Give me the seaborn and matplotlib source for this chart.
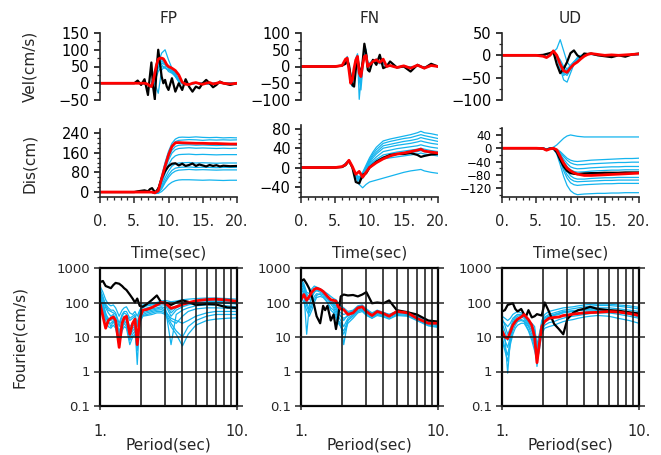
import matplotlib
matplotlib.use("Agg")
import matplotlib.pyplot as plt
from matplotlib.ticker import MultipleLocator, FixedLocator, NullLocator, NullFormatter
import seaborn as sns

# ---------------- data ----------------
COMPONENTS = ["FP", "FN", "UD"]

# Velocity FP
FP_VEL_T = [0,5,5.5,6,6.5,7,7.25,7.5,7.75,8,8.25,8.5,8.75,9,9.25,9.5,9.75,10,10.5,11,11.5,12,12.5,13,13.5,14,14.5,15,15.5,16,16.5,17,17.5,18,19,20]
FP_VEL_BLACK = [0,0,8,-5,12,-35,15,62,-10,-48,40,100,60,20,0,10,-10,-20,15,-25,0,-20,12,-10,-25,-10,-15,0,10,0,-12,-5,5,0,-5,0]
FP_VEL_RED = [0,0,0,0,0,-3,-8,-10,5,30,55,72,75,75,73,65,55,50,45,38,25,3,-3,-4,0,2,-1,-3,0,2,-2,0,3,0,-2,0]
FP_VEL_TC = [0,6,7,7.5,8,8.5,9,9.5,10,10.5,11,11.5,12,13,14,15,16,17,18,19,20]
FP_VEL_CYAN = [
    [0,0,-3,-5,25,60,90,100,70,45,30,10,0,-2,0,0,-2,0,1,0,0],
    [0,0,-3,-5,35,85,70,55,45,35,20,5,0,-2,0,1,-1,0,0,0,0],
    [0,0,-3,-8,20,55,75,65,50,40,30,10,0,-3,0,0,-2,0,0,0,0],
    [0,0,-3,-8,15,45,60,55,45,35,25,8,0,-2,0,0,-1,0,0,0,0],
    [0,0,-3,-10,5,35,50,45,40,32,20,5,-2,-3,0,0,-2,0,0,0,0],
    [0,0,-3,-10,0,-30,40,50,35,30,22,5,-2,-2,0,0,-1,0,0,0,0],
    [0,0,-3,-5,30,65,55,45,40,38,28,8,0,-3,0,1,-1,0,0,0,0],
    [0,0,-3,-6,40,50,65,60,48,42,30,12,0,-3,0,0,-2,0,0,0,0],
]

# Velocity FN
FN_VEL_T = [0,5,6,6.5,6.75,7,7.25,7.5,7.75,8,8.25,8.5,8.75,9,9.25,9.5,9.75,10,10.5,11,11.5,12,12.5,13,14,15,16,17,18,19,20]
FN_VEL_BLACK = [0,0,3,8,18,5,-30,-55,-60,-10,25,-5,-25,15,68,40,-10,-15,20,5,35,-5,0,15,-3,0,-15,5,-5,8,0]
FN_VEL_RED = [0,0,3,22,25,-10,-50,-40,-5,20,30,-20,-30,5,30,33,0,5,15,20,12,22,0,3,-3,2,-5,4,-5,3,0]
FN_VEL_CYAN = [
    [0,0,3,18,25,-5,-45,-45,-15,20,35,-20,-35,5,60,50,5,0,15,18,10,15,0,2,-2,1,-3,2,-3,2,0],
    [0,0,3,15,22,-8,-40,-50,-20,15,28,-25,-40,0,45,40,0,5,18,20,12,10,2,2,-2,0,-3,2,-2,1,0],
    [0,0,2,20,28,0,-50,-60,-30,10,25,-35,-50,-5,35,30,-5,0,12,15,10,12,0,2,-2,1,-2,2,-2,1,0],
    [0,0,2,12,20,5,-20,-40,-25,12,30,-98,-40,10,45,30,10,10,20,18,10,10,0,2,-1,1,-3,2,-2,1,0],
    [0,0,3,15,30,5,-35,-45,-10,25,38,-15,-30,10,55,45,10,5,15,22,15,12,0,2,-2,1,-2,1,-2,1,0],
    [0,0,2,12,18,0,-30,-40,-20,15,30,-40,-70,-10,40,35,15,5,12,15,8,10,0,1,-1,1,-2,1,-2,1,0],
]

# Velocity UD
UD_VEL_T = [0,5,6,6.5,7,7.5,8,8.5,9,9.5,10,10.5,11,11.5,12,12.5,13,14,15,16,17,18,19,20]
UD_VEL_BLACK = [0,0,1,3,5,8,-20,-40,-30,-15,5,11,0,-5,4,3,4,0,-2,-4,0,-3,2,4]
UD_VEL_RED = [0,0,-2,-5,0,10,0,-20,-35,-38,-28,-20,-15,-8,-2,2,4,2,0,1,0,1,2,3]
UD_VEL_CYAN = [
    [0,0,-1,-3,0,8,15,35,10,-15,-25,-15,-5,0,2,2,3,1,0,1,0,1,1,2],
    [0,0,-1,-4,0,8,-5,-30,-55,-60,-40,-20,-10,-3,0,2,3,1,0,1,0,1,1,2],
    [0,0,-1,-4,0,8,-3,-22,-40,-45,-32,-18,-10,-3,0,2,3,1,0,1,0,1,1,2],
    [0,0,-1,-3,0,7,-2,-15,-30,-35,-28,-18,-8,-2,1,2,3,1,0,1,0,1,1,2],
    [0,0,-1,-3,0,6,0,-10,-25,-30,-25,-15,-8,-2,1,2,2,1,0,1,0,1,1,2],
    [0,0,-1,-4,0,8,-6,-28,-45,-40,-30,-20,-12,-4,0,2,3,1,0,1,0,1,1,2],
    [0,0,-1,-3,0,6,-2,-18,-35,-32,-22,-14,-7,-2,0,2,2,1,0,1,0,1,1,2],
]

# Displacement FP
FP_DIS_T = [0,6,7,7.5,8,8.5,9,9.5,10,10.5,11,11.5,12,13,14,15,16,17,18,19,20]
FP_DIS_RED = [0,0,0,0,-3,5,55,105,150,185,200,201,200,199,198,198,197,197,196,195,195]
FP_DIS_TB = [0,5,5.5,6,6.5,7,7.3,7.6,7.9,8.2,8.6,9,9.5,10,10.5,11,11.5,12,12.5,13,13.5,14,14.5,15,15.5,16,16.5,17,17.5,18,19,20]
FP_DIS_BLACK = [0,0,3,5,7,3,12,16,4,0,20,55,85,105,115,117,108,115,106,110,116,106,112,108,104,110,106,109,104,107,105,106]
FP_DIS_CYAN = [
    [0,0,0,0,-3,15,65,120,165,198,215,222,223,222,224,222,221,222,220,221,220],
    [0,0,0,0,-3,12,58,112,158,190,205,210,211,213,212,210,212,211,212,211,212],
    [0,0,0,0,-4,10,50,100,140,170,185,190,191,192,190,191,190,189,190,191,190],
    [0,0,0,0,-4,8,45,92,130,158,172,177,178,180,178,179,178,177,178,177,178],
    [0,0,0,0,-5,5,35,75,110,135,147,152,153,154,152,153,152,151,152,152,152],
    [0,0,0,0,-5,2,25,58,85,105,115,118,119,120,118,119,118,117,118,118,118],
    [0,0,0,0,-5,0,18,45,70,88,97,100,101,102,100,101,100,99,100,100,100],
    [0,0,0,0,-6,-3,12,38,60,76,85,89,90,92,90,91,90,89,90,90,90],
    [0,0,0,0,-6,-5,2,15,30,40,46,49,50,50,49,48,49,48,47,48,48],
]

# Displacement FN
FN_DIS_T = [0,5,6,6.5,7,7.5,8,8.5,9,9.5,10,10.5,11,12,13,14,15,16,17,17.5,18,19,20]
FN_DIS_RED = [0,0,2,6,15,2,-14,-8,-20,-10,0,5,10,18,24,28,30,33,36,38,34,32,30]
FN_DIS_BLACK = [0,0,1,5,14,0,-30,-33,-15,-12,0,6,12,20,26,28,28,30,26,22,24,27,28]
FN_DIS_CYAN = [
    [0,0,2,8,14,0,-15,-20,-10,5,20,32,42,55,59,62,65,68,72,75,72,70,67],
    [0,0,2,8,14,0,-15,-22,-12,2,16,28,37,50,54,57,60,62,66,68,66,63,60],
    [0,0,2,8,14,0,-14,-20,-14,0,13,24,32,45,48,51,54,56,59,62,60,57,54],
    [0,0,2,8,14,0,-14,-22,-15,-2,10,20,28,40,43,46,48,50,53,55,53,50,48],
    [0,0,2,8,14,0,-14,-24,-16,-5,7,15,22,33,36,39,41,43,45,47,45,42,40],
    [0,0,2,8,14,0,-15,-25,-18,-8,4,11,17,26,29,32,34,36,38,40,38,35,33],
    [0,0,2,8,14,0,-15,-26,-20,-10,2,8,14,22,25,27,29,31,33,35,33,30,28],
    [0,0,2,8,14,0,-15,-28,-22,-12,0,6,11,18,20,22,24,26,28,30,28,26,24],
    [0,0,2,8,14,0,-18,-35,-42,-35,-30,-28,-26,-22,-18,-14,-10,-7,-5,-4,-7,-10,-12],
]

# Displacement UD
UD_DIS_T = [0,5,6,6.5,7,7.5,8,8.5,9,9.5,10,10.5,11,12,13,14,15,16,17,18,19,20]
UD_DIS_RED = [0,0,-1,-6,-2,0,-5,-25,-45,-60,-68,-74,-78,-82,-82,-81,-80,-79,-78,-77,-76,-75]
UD_DIS_BLACK = [0,0,-1,-5,-1,-1,-12,-35,-55,-68,-75,-77,-78,-76,-75,-75,-74,-74,-74,-73,-73,-73]
UD_DIS_CYAN = [
    [0,0,0,-2,0,3,10,20,30,37,40,38,36,34,34,34,34,34,34,34,34,34],
    [0,0,0,-2,0,0,-3,-10,-20,-30,-36,-39,-40,-38,-36,-35,-34,-33,-32,-31,-31,-30],
    [0,0,0,-2,0,0,-4,-13,-25,-36,-44,-48,-50,-49,-47,-46,-45,-44,-43,-43,-42,-42],
    [0,0,0,-2,0,0,-5,-18,-33,-46,-56,-60,-62,-61,-59,-58,-57,-56,-56,-55,-55,-55],
    [0,0,0,-2,0,0,-6,-22,-40,-55,-65,-70,-72,-71,-69,-68,-67,-66,-66,-65,-65,-65],
    [0,0,0,-2,0,-1,-10,-30,-52,-70,-83,-90,-93,-93,-91,-90,-89,-89,-88,-88,-88,-88],
    [0,0,0,-2,0,-1,-12,-35,-60,-80,-93,-99,-101,-100,-99,-98,-97,-97,-96,-96,-96,-96],
    [0,0,0,-2,0,-1,-14,-40,-68,-90,-104,-110,-112,-110,-109,-108,-107,-107,-106,-106,-106,-106],
    [0,0,0,-2,0,-1,-18,-50,-85,-112,-128,-136,-140,-138,-137,-136,-136,-135,-135,-134,-134,-134],
]

# Fourier spectra (period grid)
PERIOD = [1.0,1.05,1.1,1.15,1.2,1.25,1.3,1.38,1.45,1.5,1.56,1.65,1.73,1.8,1.87,1.95,2.05,2.2,2.4,2.6,2.8,3.0,3.3,3.6,4.0,4.4,5.0,6.0,7.0,8.5,10.0]

FP_FOU_BLACK = [390,420,300,280,260,320,370,350,300,260,230,170,130,100,130,80,75,90,120,160,100,100,85,100,115,105,85,90,88,72,70]
FP_FOU_RED = [95,40,18,30,35,38,30,5,25,36,40,12,25,33,6,35,60,63,72,85,100,95,68,75,88,98,112,122,125,118,108]
FP_FOU_CYAN = [
    [300,200,120,90,80,85,70,40,60,70,75,50,45,55,40,60,85,90,95,100,110,115,105,110,120,125,130,135,135,130,125],
    [250,150,80,60,55,50,45,20,40,50,45,30,35,40,20,50,70,80,85,90,95,100,60,80,95,105,110,115,118,115,110],
    [200,120,70,50,40,45,35,12,30,40,35,20,25,30,10,40,60,70,75,80,85,85,40,60,75,85,95,100,100,95,90],
    [180,100,50,30,35,40,25,5,20,30,25,15,20,25,6,35,55,60,65,70,75,70,6,45,60,70,80,85,85,80,75],
    [150,90,45,35,30,35,30,15,25,35,30,12,18,20,1.6,30,50,55,60,65,70,60,30,25,40,55,65,70,70,68,65],
    [130,80,40,25,25,30,25,10,22,28,25,10,15,18,8,30,45,50,55,60,62,55,35,30,25,30,40,50,55,55,55],
    [120,70,35,30,20,28,20,8,18,25,20,8,12,15,5,28,42,45,50,55,55,50,25,15,10,20,30,40,45,45,45],
    [110,60,30,20,18,22,18,6,15,20,18,6,10,12,4,25,40,42,45,50,50,45,20,12,5.5,12,22,30,33,35,36],
    [200,130,90,70,60,60,50,25,45,55,55,35,40,45,25,55,75,85,90,95,100,95,50,70,85,90,100,105,108,105,100],
]

FN_FOU_BLACK = [420,470,350,250,150,80,40,25,80,60,80,30,45,17,40,150,170,160,165,150,170,200,95,100,95,115,60,52,45,30,28]
FN_FOU_RED = [120,170,115,150,200,240,260,240,210,180,150,120,115,110,75,65,62,45,50,70,75,55,42,55,48,40,55,50,35,25,25]
FN_FOU_CYAN = [
    [500,350,200,180,250,300,280,250,220,200,180,150,130,120,100,80,70,55,60,80,85,65,50,60,52,45,55,52,40,28,25],
    [300,200,12,80,150,200,220,200,180,150,120,100,90,80,50,40,35,40,50,65,70,50,40,50,45,40,50,48,35,25,22],
    [250,180,100,60,100,150,180,170,150,130,100,70,60,40,30,25,6,30,40,55,60,45,35,45,40,35,45,42,32,22,20],
    [400,300,150,120,180,250,250,230,200,170,140,110,80,60,40,30,20,35,45,60,65,48,38,48,42,38,48,45,33,24,21],
    [200,150,80,50,80,120,160,180,170,150,130,90,70,50,30,20,15,30,42,55,62,52,40,55,48,42,52,50,38,27,24],
    [350,250,120,90,140,200,230,220,200,160,130,100,90,70,50,40,30,45,55,75,80,60,45,55,50,45,55,55,40,30,27],
    [150,100,60,40,60,100,140,150,140,120,100,60,50,35,25,20,12,25,35,50,55,42,35,42,38,33,42,40,30,21,19],
    [450,280,180,140,200,260,270,240,210,180,150,120,100,90,60,50,45,50,58,70,78,58,45,52,48,42,52,50,37,26,23],
]

UD_FOU_BLACK = [55,60,85,90,95,65,55,65,45,40,60,37,40,46,44,42,100,55,24,17,12,33,50,60,66,75,65,60,58,52,48]
UD_FOU_RED = [15,10,9,14,22,28,33,38,45,38,32,22,10,1.8,6,20,28,35,37,38,42,43,46,48,50,51,52,55,53,48,42]
UD_FOU_CYAN = [
    [40,35,30,35,45,50,55,50,45,40,30,25,20,5,10,30,45,55,60,65,70,72,75,80,85,88,90,90,85,80,72],
    [30,25,20,25,35,40,45,42,38,32,25,18,12,3,8,25,38,45,50,55,60,62,66,70,75,78,82,82,78,72,65],
    [20,10,0.9,8,20,30,35,38,35,28,22,15,8,1.4,5,20,30,38,42,45,50,52,55,60,63,66,70,70,66,60,55],
    [15,8,5,10,20,25,30,32,30,25,20,12,6,2,6,18,28,32,35,38,42,44,48,50,53,55,58,58,55,50,45],
    [10,5,3,8,15,22,28,30,28,22,16,10,5,2.5,5,15,22,26,28,32,35,38,40,42,45,48,50,50,46,40,35],
    [25,15,8,12,25,35,40,42,40,35,28,20,15,4,8,22,32,40,45,50,55,56,58,60,62,64,65,62,55,48,42],
    [8,4,2,6,12,18,22,25,25,20,15,8,4,2,4,12,18,20,22,25,28,30,32,35,38,40,42,40,35,30,25],
    [35,22,12,18,30,40,45,45,42,36,28,22,16,6,12,25,36,40,44,48,52,54,56,58,60,60,60,58,52,45,38],
]

TIME_TICKS = [0, 5, 10, 15, 20]
TIME_TICK_LABELS = ["0.", "5.", "10.", "15.", "20."]
PERIOD_TICKS = [1, 10]
PERIOD_TICK_LABELS = ["1.", "10."]
FOU_TICKS = [0.1, 1, 10, 100, 1000]
FOU_TICK_LABELS = ["0.1", "1", "10", "100", "1000"]

# ---------------- style ----------------
sns.set_theme(style="ticks")
plt.rcParams["font.family"] = ["DejaVu Sans"]
plt.rcParams["axes.linewidth"] = 1.2

CYAN = "#14B4EE"
BLACK = "#000000"
RED = "#FF0000"

W, H = 661, 455
fig = plt.figure(figsize=(W / 100, H / 100), dpi=100)


def box(l, t, r, b):
    return [l / W, 1 - b / H, (r - l) / W, (b - t) / H]


COLS = [(100, 237), (301, 438), (502, 639)]


def draw(ax, tc, cyan, tb, black, tr, red):
    for c in cyan:
        sns.lineplot(x=tc, y=c, ax=ax, color=CYAN, linewidth=0.9, estimator=None, errorbar=None)
    sns.lineplot(x=tb, y=black, ax=ax, color=BLACK, linewidth=1.6, estimator=None, errorbar=None)
    sns.lineplot(x=tr, y=red, ax=ax, color=RED, linewidth=2.0, estimator=None, errorbar=None)
    ax.set_xlabel("")
    ax.set_ylabel("")


def style_time(ax, ylim, major, minor, row2, ysize=10.5):
    ax.set_xlim(0, 20)
    ax.set_ylim(*ylim)
    ax.spines["top"].set_visible(False)
    ax.spines["right"].set_visible(False)
    ax.yaxis.set_major_locator(MultipleLocator(major))
    ax.yaxis.set_minor_locator(MultipleLocator(minor))
    ax.tick_params(axis="y", which="major", direction="out", length=4.5, width=1.1,
                   labelsize=ysize, pad=3, colors="black")
    ax.tick_params(axis="y", which="minor", direction="out", length=2.5, width=0.9)
    if row2:
        ax.set_xticks(TIME_TICKS)
        ax.set_xticklabels(TIME_TICK_LABELS)
        ax.xaxis.set_minor_locator(MultipleLocator(1))
        ax.tick_params(axis="x", which="major", direction="out", length=4, width=1.1,
                       labelsize=10.5, pad=8)
        ax.tick_params(axis="x", which="minor", direction="out", length=2.5, width=0.9)
        ax.set_xlabel("Time(sec)", fontsize=11, labelpad=12)
    else:
        ax.spines["bottom"].set_visible(False)
        ax.tick_params(axis="x", which="both", bottom=False, labelbottom=False)


# Row 1: velocity
vel = [
    (FP_VEL_TC, FP_VEL_CYAN, FP_VEL_T, FP_VEL_BLACK, FP_VEL_T, FP_VEL_RED, (-50, 150), 50, 25),
    (FN_VEL_T, FN_VEL_CYAN, FN_VEL_T, FN_VEL_BLACK, FN_VEL_T, FN_VEL_RED, (-100, 100), 50, 25),
    (UD_VEL_T, UD_VEL_CYAN, UD_VEL_T, UD_VEL_BLACK, UD_VEL_T, UD_VEL_RED, (-100, 50), 50, 25),
]
for i, (tc, cy, tb, bl, tr, rd, yl, mj, mn) in enumerate(vel):
    ax = fig.add_axes(box(COLS[i][0], 33, COLS[i][1], 100))
    draw(ax, tc, cy, tb, bl, tr, rd)
    style_time(ax, yl, mj, mn, False)
    ax.set_title(COMPONENTS[i], fontsize=11, pad=7)
    if i == 0:
        ax.set_ylabel("Vel(cm/s)", fontsize=11)
        ax.yaxis.set_label_coords(-0.46, 0.5)

# Row 2: displacement
dis = [
    (FP_DIS_T, FP_DIS_CYAN, FP_DIS_TB, FP_DIS_BLACK, FP_DIS_T, FP_DIS_RED, (-20, 256), 80, 20, 129, 10.5),
    (FN_DIS_T, FN_DIS_CYAN, FN_DIS_T, FN_DIS_BLACK, FN_DIS_T, FN_DIS_RED, (-61, 88), 40, 10, 125, 10.5),
    (UD_DIS_T, UD_DIS_CYAN, UD_DIS_T, UD_DIS_BLACK, UD_DIS_T, UD_DIS_RED, (-147, 61), 40, 20, 128, 8.5),
]
for i, (tc, cy, tb, bl, tr, rd, yl, mj, mn, top, ys) in enumerate(dis):
    ax = fig.add_axes(box(COLS[i][0], top, COLS[i][1], 197))
    draw(ax, tc, cy, tb, bl, tr, rd)
    style_time(ax, yl, mj, mn, True, ysize=ys)
    if i == 0:
        ax.set_ylabel("Dis(cm)", fontsize=11)
        ax.yaxis.set_label_coords(-0.46, 0.5)

# Row 3: Fourier spectra
fou = [
    (FP_FOU_CYAN, FP_FOU_BLACK, FP_FOU_RED),
    (FN_FOU_CYAN, FN_FOU_BLACK, FN_FOU_RED),
    (UD_FOU_CYAN, UD_FOU_BLACK, UD_FOU_RED),
]
for i, (cy, bl, rd) in enumerate(fou):
    ax = fig.add_axes(box(COLS[i][0], 268, COLS[i][1], 406))
    ax.set_xscale("log")
    ax.set_yscale("log")
    draw(ax, PERIOD, cy, PERIOD, bl, PERIOD, rd)
    ax.set_xlim(1, 10)
    ax.set_ylim(0.1, 1000)
    ax.xaxis.set_major_locator(FixedLocator(PERIOD_TICKS))
    ax.set_xticklabels(PERIOD_TICK_LABELS)
    ax.xaxis.set_minor_locator(FixedLocator([2, 3, 4, 5, 6, 7, 8, 9]))
    ax.xaxis.set_minor_formatter(NullFormatter())
    ax.yaxis.set_major_locator(FixedLocator(FOU_TICKS))
    ax.set_yticklabels(FOU_TICK_LABELS)
    ax.yaxis.set_minor_locator(NullLocator())
    ax.grid(True, which="major", axis="y", color="#111111", linewidth=1.1)
    ax.grid(True, which="both", axis="x", color="#111111", linewidth=1.1)
    ax.set_axisbelow(False)
    for s in ax.spines.values():
        s.set_visible(True)
        s.set_linewidth(1.6)
        s.set_color("black")
    ax.tick_params(axis="y", which="major", direction="out", length=4, width=1.1,
                   left=True, right=True, labelsize=9.5, pad=3)
    ax.tick_params(axis="x", which="major", direction="out", length=3, width=1.1,
                   labelsize=10.5, pad=10)
    ax.tick_params(axis="x", which="minor", length=0)
    ax.set_xlabel("Period(sec)", fontsize=11, labelpad=-1)
    if i == 0:
        ax.set_ylabel("Fourier(cm/s)", fontsize=11)
        ax.yaxis.set_label_coords(-0.53, 0.5)

fig.savefig("out.png", dpi=100)
